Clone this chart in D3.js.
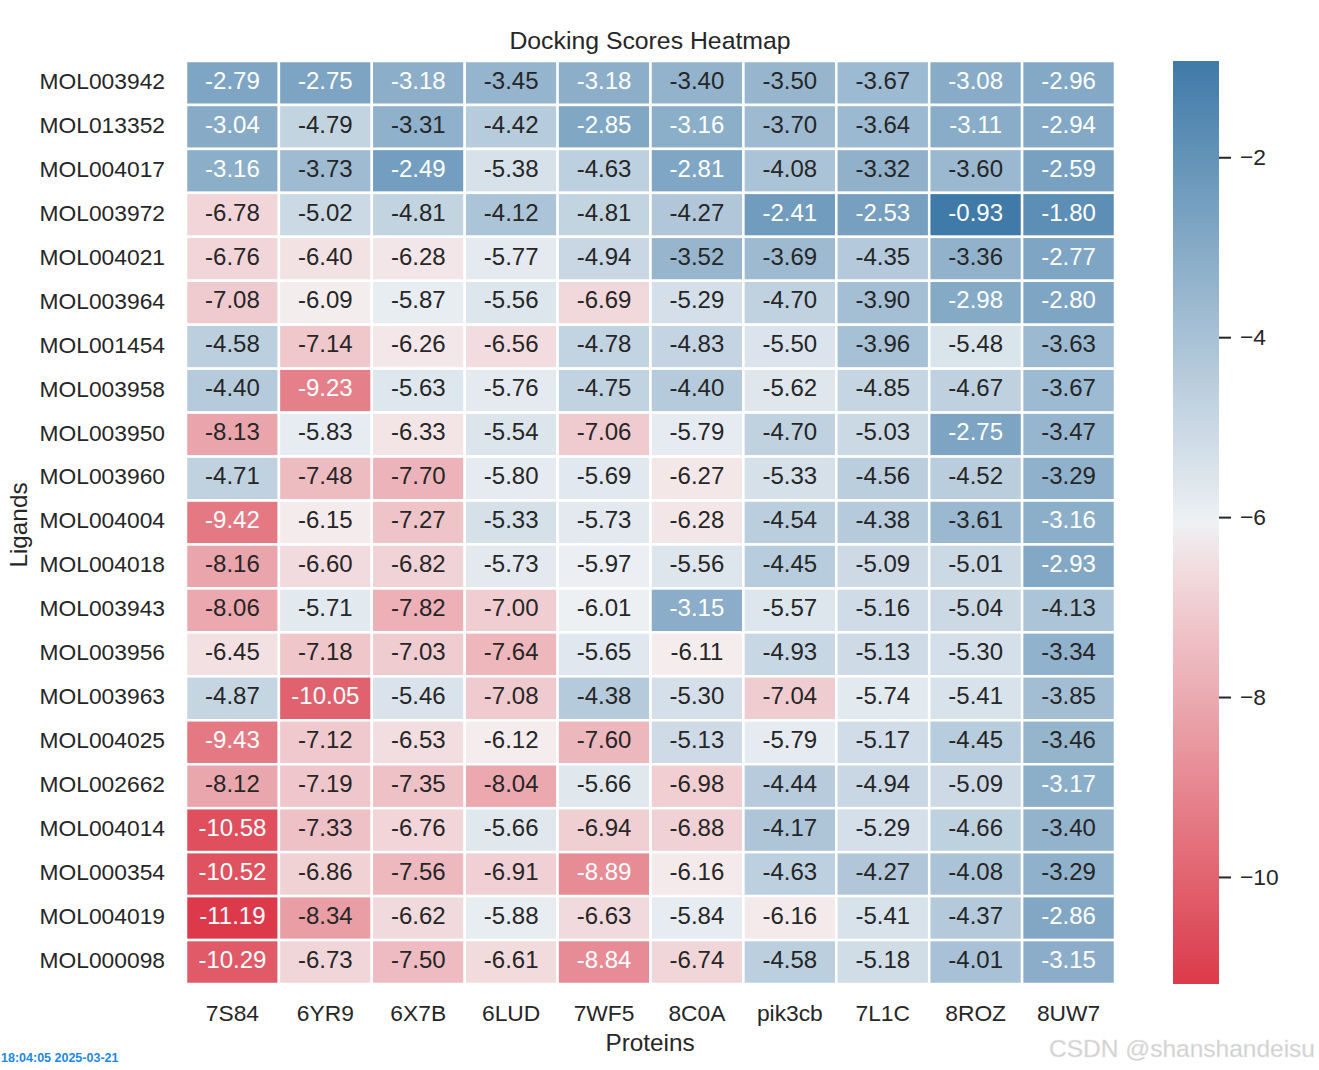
<!DOCTYPE html>
<html lang="en">
<head>
<meta charset="UTF-8">
<script src="https://d3js.org/d3.v7.min.js"></script>
<title>Docking Scores Heatmap</title>
<style>
  body { margin: 0; background: #fff; }
  text { font-family: "Liberation Sans", Arial, sans-serif; }
</style>
</head>
<body>
<svg id="chart" width="1319" height="1070"></svg>
<script>
// data
var proteins = ["7S84", "6YR9", "6X7B", "6LUD", "7WF5", "8C0A", "pik3cb", "7L1C", "8ROZ", "8UW7"];
var ligands = ["MOL003942", "MOL013352", "MOL004017", "MOL003972", "MOL004021", "MOL003964", "MOL001454",
  "MOL003958", "MOL003950", "MOL003960", "MOL004004", "MOL004018", "MOL003943", "MOL003956", "MOL003963",
  "MOL004025", "MOL002662", "MOL004014", "MOL000354", "MOL004019", "MOL000098"];
var scores = [
  [-2.79, -2.75, -3.18, -3.45, -3.18, -3.40, -3.50, -3.67, -3.08, -2.96],
  [-3.04, -4.79, -3.31, -4.42, -2.85, -3.16, -3.70, -3.64, -3.11, -2.94],
  [-3.16, -3.73, -2.49, -5.38, -4.63, -2.81, -4.08, -3.32, -3.60, -2.59],
  [-6.78, -5.02, -4.81, -4.12, -4.81, -4.27, -2.41, -2.53, -0.93, -1.80],
  [-6.76, -6.40, -6.28, -5.77, -4.94, -3.52, -3.69, -4.35, -3.36, -2.77],
  [-7.08, -6.09, -5.87, -5.56, -6.69, -5.29, -4.70, -3.90, -2.98, -2.80],
  [-4.58, -7.14, -6.26, -6.56, -4.78, -4.83, -5.50, -3.96, -5.48, -3.63],
  [-4.40, -9.23, -5.63, -5.76, -4.75, -4.40, -5.62, -4.85, -4.67, -3.67],
  [-8.13, -5.83, -6.33, -5.54, -7.06, -5.79, -4.70, -5.03, -2.75, -3.47],
  [-4.71, -7.48, -7.70, -5.80, -5.69, -6.27, -5.33, -4.56, -4.52, -3.29],
  [-9.42, -6.15, -7.27, -5.33, -5.73, -6.28, -4.54, -4.38, -3.61, -3.16],
  [-8.16, -6.60, -6.82, -5.73, -5.97, -5.56, -4.45, -5.09, -5.01, -2.93],
  [-8.06, -5.71, -7.82, -7.00, -6.01, -3.15, -5.57, -5.16, -5.04, -4.13],
  [-6.45, -7.18, -7.03, -7.64, -5.65, -6.11, -4.93, -5.13, -5.30, -3.34],
  [-4.87, -10.05, -5.46, -7.08, -4.38, -5.30, -7.04, -5.74, -5.41, -3.85],
  [-9.43, -7.12, -6.53, -6.12, -7.60, -5.13, -5.79, -5.17, -4.45, -3.46],
  [-8.12, -7.19, -7.35, -8.04, -5.66, -6.98, -4.44, -4.94, -5.09, -3.17],
  [-10.58, -7.33, -6.76, -5.66, -6.94, -6.88, -4.17, -5.29, -4.66, -3.40],
  [-10.52, -6.86, -7.56, -6.91, -8.89, -6.16, -4.63, -4.27, -4.08, -3.29],
  [-11.19, -8.34, -6.62, -5.88, -6.63, -5.84, -6.16, -5.41, -4.37, -2.86],
  [-10.29, -6.73, -7.50, -6.61, -8.84, -6.74, -4.58, -5.18, -4.01, -3.15]
];
var cbarTicks = [-2, -4, -6, -8, -10];

var svg = d3.select("#chart");
var plotL = 186, plotR = 1115, plotT = 61, plotB = 984;

var x = d3.scaleBand().domain(proteins).range([plotL, plotR]);
var y = d3.scaleBand().domain(ligands).range([plotT, plotB]);

var all = scores.flat();
var vmin = d3.min(all), vmax = d3.max(all);
var mid = (vmin + vmax) / 2;

// seaborn-like diverging palette (10 -> 240), light centre
var negScale = d3.scaleLinear().domain([vmin, mid]).range(["#dc3a4a", "#f4eeef"]).interpolate(d3.interpolateRgb).clamp(true);
var posScale = d3.scaleLinear().domain([mid, vmax]).range(["#eef1f4", "#3f7aa8"]).interpolate(d3.interpolateRgb).clamp(true);
function color(v) { return v < mid ? negScale(v) : posScale(v); }

function lum(c) {
  var rgb = d3.rgb(c);
  var f = function (u) { u = u / 255; return u <= 0.03928 ? u / 12.92 : Math.pow((u + 0.055) / 1.055, 2.4); };
  return 0.2126 * f(rgb.r) + 0.7152 * f(rgb.g) + 0.0722 * f(rgb.b);
}

var cells = [];
scores.forEach(function (row, i) {
  row.forEach(function (v, j) { cells.push({ lig: ligands[i], pro: proteins[j], v: v }); });
});

var g = svg.append("g");
g.selectAll("rect.cell")
  .data(cells)
  .enter().append("rect")
  .attr("class", "cell")
  .attr("x", d => x(d.pro))
  .attr("y", d => y(d.lig))
  .attr("width", x.bandwidth())
  .attr("height", y.bandwidth())
  .attr("fill", d => color(d.v))
  .attr("stroke", "#fff")
  .attr("stroke-width", 2.5);

g.selectAll("text.annot")
  .data(cells)
  .enter().append("text")
  .attr("class", "annot")
  .attr("x", d => x(d.pro) + x.bandwidth() / 2)
  .attr("y", d => y(d.lig) + y.bandwidth() / 2)
  .attr("dy", "0.24em")
  .attr("text-anchor", "middle")
  .attr("font-size", 24)
  .attr("fill", d => lum(color(d.v)) > 0.408 ? "#262626" : "#ffffff")
  .text(d => d.v.toFixed(2));

// tick labels
svg.append("g").selectAll("text")
  .data(ligands)
  .enter().append("text")
  .attr("x", 165)
  .attr("y", d => y(d) + y.bandwidth() / 2)
  .attr("dy", "0.26em")
  .attr("text-anchor", "end")
  .attr("font-size", 22.8)
  .attr("fill", "#262626")
  .text(d => d);

svg.append("g").selectAll("text")
  .data(proteins)
  .enter().append("text")
  .attr("x", d => x(d) + x.bandwidth() / 2)
  .attr("y", 1013)
  .attr("dy", "0.35em")
  .attr("text-anchor", "middle")
  .attr("font-size", 22.8)
  .attr("fill", "#262626")
  .text(d => d);

// titles
svg.append("text").attr("x", 650).attr("y", 40).attr("dy", "0.36em")
  .attr("text-anchor", "middle").attr("font-size", 24.8).attr("fill", "#262626")
  .text("Docking Scores Heatmap");
svg.append("text").attr("x", 650).attr("y", 1043).attr("dy", "0.34em")
  .attr("text-anchor", "middle").attr("font-size", 24.3).attr("fill", "#262626")
  .text("Proteins");
svg.append("text").attr("transform", "translate(18,525) rotate(-90)").attr("dy", "0.35em")
  .attr("text-anchor", "middle").attr("font-size", 24.3).attr("fill", "#262626")
  .text("Ligands");

// colorbar
var cb = { x: 1173, w: 46 };
var cy = d3.scaleLinear().domain([vmin, vmax]).range([plotB, plotT]);
var defs = svg.append("defs");
var grad = defs.append("linearGradient").attr("id", "cbgrad")
  .attr("x1", 0).attr("y1", 1).attr("x2", 0).attr("y2", 0);
d3.range(0, 1.0001, 0.05).forEach(function (t) {
  grad.append("stop").attr("offset", t).attr("stop-color", color(vmin + t * (vmax - vmin)));
});
svg.append("rect").attr("x", cb.x).attr("y", plotT).attr("width", cb.w).attr("height", plotB - plotT)
  .attr("fill", "url(#cbgrad)");

var cbAxis = d3.axisRight(cy).tickValues(cbarTicks).tickSize(12).tickPadding(9)
  .tickFormat(d => "\u2212" + Math.abs(d));
var ax = svg.append("g").attr("transform", "translate(" + (cb.x + cb.w) + ",0)").call(cbAxis);
ax.select(".domain").remove();
ax.selectAll("line").attr("stroke", "#262626").attr("stroke-width", 2);
ax.selectAll("text").attr("font-size", 22.8).attr("fill", "#262626")
  .attr("font-family", "'Liberation Sans', Arial, sans-serif");

// stamp and watermark
svg.append("text").attr("x", 1).attr("y", 1062).attr("font-size", 12.5).attr("font-weight", "bold")
  .attr("fill", "#1e88e5")
  .attr("font-family", "'DejaVu Sans Condensed', 'Liberation Sans Narrow', sans-serif")
  .text("18:04:05 2025-03-21");
svg.append("text").attr("x", 1315).attr("y", 1057).attr("text-anchor", "end").attr("font-size", 24.5)
  .attr("fill", "#d0d0d0").attr("stroke", "#e8e8e8").attr("stroke-width", 0.4)
  .text("CSDN @shanshandeisu");
</script>
</body>
</html>
